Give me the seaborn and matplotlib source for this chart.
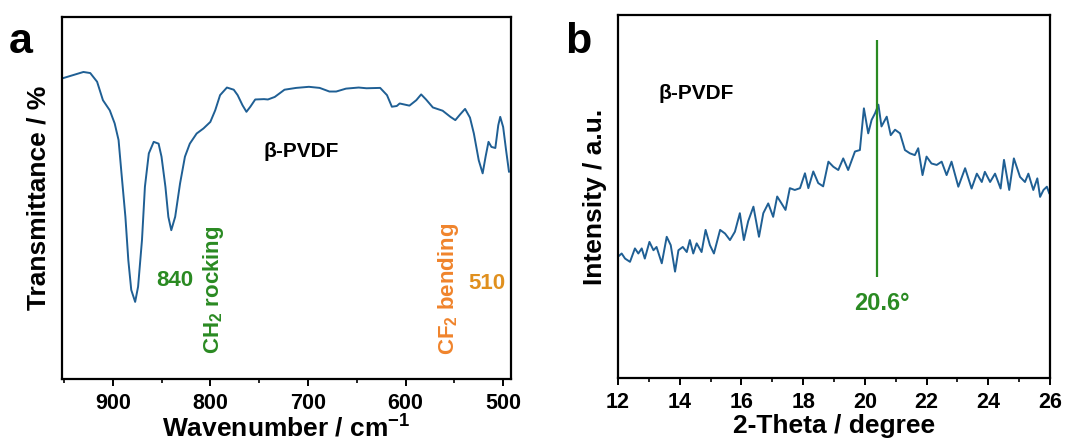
import numpy as np
import pandas as pd
import matplotlib
matplotlib.use("Agg")
import matplotlib.pyplot as plt
import seaborn as sns
from matplotlib.ticker import MultipleLocator

# ---- FTIR data (panel a) ----
ftir_wavenumber = [952, 930, 923, 916, 910, 903, 898, 894, 891, 887, 884, 881, 877, 874, 870,
                   867, 863, 858, 853, 850, 846, 843, 840, 836, 831, 826, 821, 814, 807, 800,
                   795, 790, 783, 776, 772, 767, 763, 759, 754, 745, 741, 734, 724, 712, 699,
                   688, 678, 671, 661, 648, 640, 626, 619, 614, 609, 606, 596, 589, 584, 579,
                   572, 562, 554, 549, 544, 539, 534, 530, 525, 521, 518, 515, 512, 508, 505,
                   503, 500, 497, 494]
ftir_transmittance = [83.0, 84.8, 84.5, 82.1, 77.0, 74.2, 70.6, 66.0, 56.8, 44.8, 32.8, 24.6, 21.3, 25.5, 38.4,
                      53.1, 62.3, 65.5, 65.0, 61.4, 53.1, 44.8, 41.1, 44.8, 54.0, 61.4, 65.0, 67.8, 69.2, 71.0,
                      74.2, 78.4, 80.5, 79.9, 78.4, 75.6, 73.8, 75.2, 77.2, 77.3, 77.2, 77.9, 79.9, 80.4, 80.7,
                      80.4, 79.4, 79.4, 80.2, 80.5, 80.3, 80.4, 78.4, 75.2, 75.4, 76.1, 75.5, 77.0, 78.6, 77.2,
                      75.0, 74.1, 72.4, 71.5, 73.1, 74.6, 72.2, 67.8, 60.4, 56.8, 61.4, 65.5, 64.1, 63.8, 70.1,
                      72.4, 69.6, 63.2, 57.2]

# ---- XRD data (panel b) ----
xrd_two_theta = [12.00, 12.12, 12.23, 12.39, 12.55, 12.66, 12.77, 12.87, 13.02, 13.15, 13.25,
                 13.42, 13.58, 13.71, 13.85, 13.96, 14.10, 14.23, 14.33, 14.44, 14.55, 14.71,
                 14.84, 14.98, 15.11, 15.31, 15.47, 15.63, 15.79, 15.95, 16.08, 16.22, 16.39,
                 16.57, 16.71, 16.87, 17.03, 17.16, 17.30, 17.43, 17.57, 17.73, 17.90, 18.06,
                 18.17, 18.33, 18.49, 18.65, 18.82, 18.98, 19.14, 19.30, 19.46, 19.68, 19.84,
                 19.97, 20.11, 20.22, 20.33, 20.44, 20.54, 20.71, 20.84, 20.98, 21.14, 21.30,
                 21.46, 21.62, 21.73, 21.87, 22.00, 22.16, 22.33, 22.49, 22.65, 22.81, 23.03,
                 23.25, 23.46, 23.63, 23.79, 23.89, 24.06, 24.22, 24.40, 24.51, 24.68, 24.83,
                 25.03, 25.19, 25.30, 25.46, 25.59, 25.68, 25.79, 25.90, 25.98]
xrd_intensity = [33.4, 34.3, 32.9, 32.0, 35.7, 34.3, 35.7, 32.9, 37.5, 35.2, 36.1,
                 31.6, 38.9, 36.6, 29.3, 35.2, 36.1, 34.7, 38.0, 34.3, 37.1, 34.7,
                 40.8, 36.6, 34.3, 40.8, 39.8, 38.0, 40.3, 45.4, 38.0, 43.2, 47.2,
                 38.9, 45.4, 48.1, 44.4, 50.0, 48.1, 46.3, 52.3, 51.8, 52.3, 56.4,
                 52.3, 56.9, 53.7, 52.8, 59.6, 58.2, 57.3, 60.5, 57.3, 62.4, 62.8,
                 74.3, 67.4, 71.1, 72.9, 75.3, 69.3, 72.0, 66.9, 68.4, 67.4, 62.8,
                 61.9, 61.4, 63.3, 55.9, 61.0, 59.1, 58.7, 59.6, 55.9, 59.6, 52.7,
                 57.8, 52.2, 56.3, 54.0, 56.8, 54.0, 56.3, 52.2, 60.1, 51.8, 60.5,
                 55.4, 54.0, 56.3, 51.8, 55.0, 49.9, 51.8, 52.7, 50.8]

peak_position = 20.4
peak_label = "20.6°"

sns.set_theme(style="ticks")
plt.rcParams['font.family'] = ['Liberation Sans', 'DejaVu Sans']
plt.rcParams['font.weight'] = 'bold'
plt.rcParams['axes.labelweight'] = 'bold'
plt.rcParams['text.color'] = 'black'
plt.rcParams['axes.labelcolor'] = 'black'
plt.rcParams['xtick.color'] = 'black'
plt.rcParams['xtick.labelcolor'] = 'black'
plt.rcParams['mathtext.fontset'] = 'custom'
plt.rcParams['mathtext.rm'] = 'Liberation Sans:bold'
plt.rcParams['mathtext.bf'] = 'Liberation Sans:bold'
plt.rcParams['mathtext.it'] = 'Liberation Sans:bold'
plt.rcParams['mathtext.default'] = 'bf'

line_color = "#1f5f94"
green = "#2a8a22"
orange = "#f0842c"
orange2 = "#e0901e"

fig = plt.figure(figsize=(10.83, 4.41), dpi=100)
ax1 = fig.add_axes([0.0572, 0.1406, 0.4146, 0.821])
ax2 = fig.add_axes([0.5706, 0.1429, 0.3989, 0.823])

df_a = pd.DataFrame({"wn": ftir_wavenumber, "T": ftir_transmittance})
df_b = pd.DataFrame({"tt": xrd_two_theta, "I": xrd_intensity})

sns.lineplot(data=df_a, x="wn", y="T", ax=ax1, color=line_color, lw=1.4, sort=False, estimator=None)
sns.lineplot(data=df_b, x="tt", y="I", ax=ax2, color=line_color, lw=1.4, sort=False, estimator=None)

ax1.set_xlim(952, 492)
ax1.xaxis.set_major_locator(MultipleLocator(100))
ax1.xaxis.set_minor_locator(MultipleLocator(50))
ax1.set_xlabel("Wavenumber / cm$^{-1}$", fontsize=19, fontweight='bold', labelpad=1)
ax1.set_ylabel("Transmittance / %", fontsize=19, fontweight='bold', labelpad=8)

ax2.set_xlim(12, 26)
ax2.xaxis.set_major_locator(MultipleLocator(2))
ax2.xaxis.set_minor_locator(MultipleLocator(1))
ax2.set_xlabel("2-Theta / degree", fontsize=19, fontweight='bold', labelpad=1)
ax2.set_ylabel("Intensity / a.u.", fontsize=19, fontweight='bold', labelpad=8)

for ax in (ax1, ax2):
    for s in ax.spines.values():
        s.set_linewidth(1.6)
        s.set_color("black")
        s.set_visible(True)
    ax.set_yticks([])
    ax.tick_params(axis='x', which='major', direction='out', length=5, width=1.4,
                   labelsize=15.5, pad=5, colors='black')
    ax.tick_params(axis='x', which='minor', direction='out', length=3, width=1.2, colors='black')
    ax.set_ylim(0, 100)
    for lab in ax.get_xticklabels():
        lab.set_fontweight('bold')

# annotations panel a
ax1.text(707, 62.7, "β-PVDF", fontsize=15, fontweight='bold', ha='center', va='center', color='black')
ax1.text(836, 27.3, "840", fontsize=16, fontweight='bold', ha='center', va='center', color=green)
ax1.text(797, 24.6, "CH$_2$ rocking", fontsize=16, fontweight='bold', rotation=90,
         ha='center', va='center', color=green)
ax1.text(556, 24.8, "CF$_2$ bending", fontsize=16, fontweight='bold', rotation=90,
         ha='center', va='center', color=orange)
ax1.text(517, 26.4, "510", fontsize=16, fontweight='bold', ha='center', va='center', color=orange2)

# annotations panel b
ax2.vlines(peak_position, 27.7, 93.0, color=green, lw=1.6)
ax2.text(20.55, 20.5, peak_label, fontsize=17, fontweight='bold', ha='center', va='center', color=green)
ax2.text(13.3, 78.5, "β-PVDF", fontsize=15, fontweight='bold', ha='left', va='center', color='black')

fig.text(0.008, 0.905, "a", fontsize=31, fontweight='bold', ha='left', va='center', color='black')
fig.text(0.522, 0.905, "b", fontsize=31, fontweight='bold', ha='left', va='center', color='black')

fig.savefig("out.png", dpi=100)
